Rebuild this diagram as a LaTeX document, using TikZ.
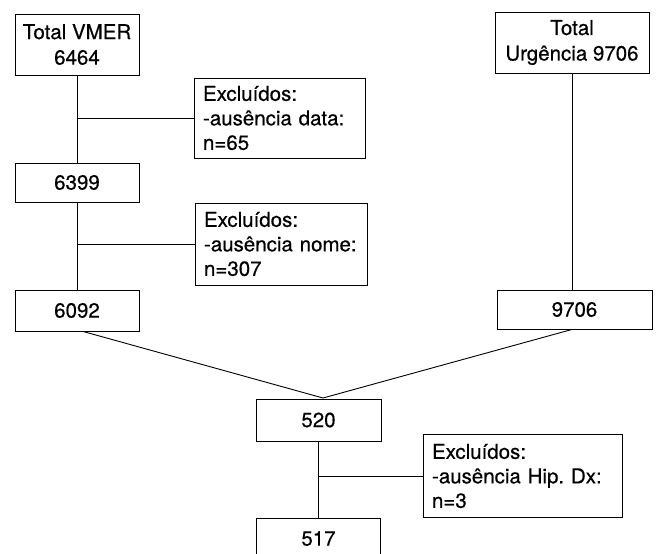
\documentclass[tikz,border=0pt]{standalone}
\usepackage{fontspec}
\setmainfont{TeX Gyre Heros}[FakeBold=0.5]
\usetikzlibrary{positioning}

\begin{document}
\frenchspacing
\begin{tikzpicture}[x=1pt,y=-1pt,line width=0.9pt,
  box/.style={draw, inner sep=0pt, align=center, font=\fontsize{20.5}{25.5}\selectfont},
  excl/.style={draw, inner xsep=9pt, inner ysep=0pt, align=left, font=\fontsize{20.5}{24.5}\selectfont}]

  \useasboundingbox (0,0) rectangle (656,554);

  % left column
  \node[box, minimum width=124pt, minimum height=61pt] (vmer) at (77,44.5) {Total VMER\\6464};
  \node[box, minimum width=124pt, minimum height=39pt] (n6399) at (77,182.5) {6399};
  \node[box, minimum width=124pt, minimum height=41pt] (n6092) at (77,310.5) {6092};
  \node[excl, text width=153pt, minimum height=80pt] (exdata) at (279.5,118) {Excluídos:\\-ausência data:\\n=65};
  \node[excl, text width=154pt, minimum height=82pt] (exnome) at (281,244) {Excluídos:\\-ausência nome:\\n=307};

  % right column
  \node[box, minimum width=154pt, minimum height=61pt] (urg) at (572,42.5) {Total\\Urgência 9706};
  \node[box, minimum width=155pt, minimum height=39pt] (n9706) at (574.5,309.5) {9706};

  % merged
  \node[box, minimum width=125pt, minimum height=42pt] (n520) at (318.5,420) {520};
  \node[box, minimum width=124pt, minimum height=41pt] (n517) at (318.5,538.5) {517};
  \node[excl, text width=181pt, minimum height=83pt] (exhip) at (522.5,476) {Excluídos:\\-ausência Hip. Dx:\\n=3};

  \coordinate (join) at (323,398);

  \draw (vmer) -- (n6399);
  \draw (n6399) -- (n6092);
  \draw (vmer.south |- exdata.west) -- (exdata.west);
  \draw (n6399.south |- exnome.west) -- (exnome.west);
  \draw (urg.south) -- (urg.south |- n9706.north);
  \draw ([xshift=6pt]n6092.south) -- (join) -- (urg.south |- n9706.south);
  \draw (n520) -- (n517);
  \draw (n520.south |- exhip.west) -- (exhip.west);
\end{tikzpicture}
\end{document}
